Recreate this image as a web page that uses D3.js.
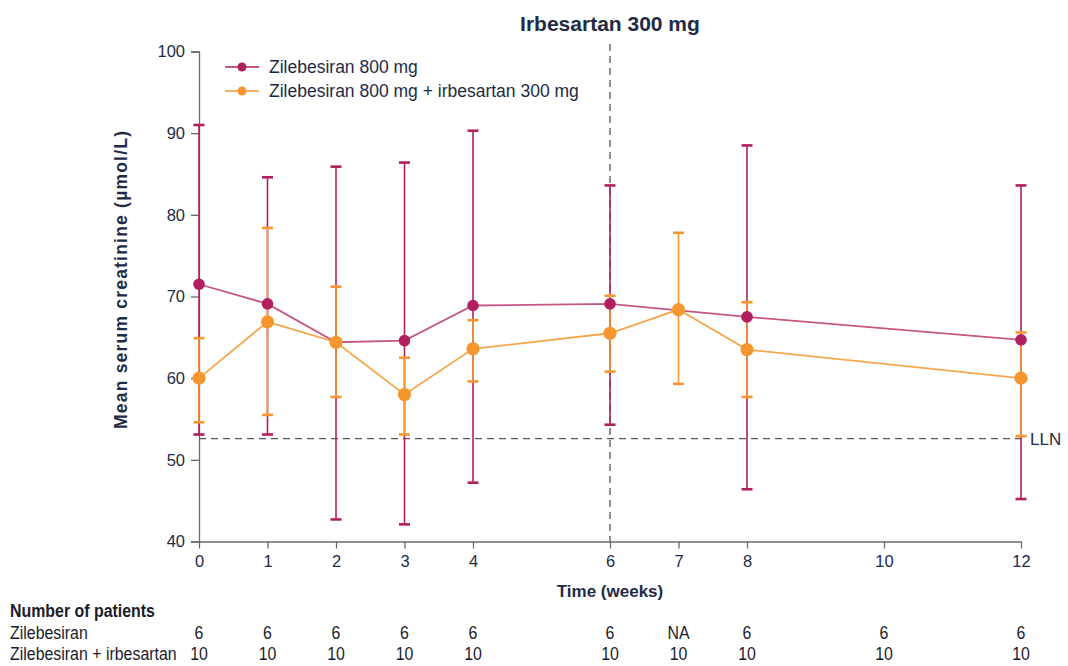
<!DOCTYPE html>
<html>
<head>
<meta charset="utf-8">
<script src="https://cdn.jsdelivr.net/npm/d3@7"></script>
<style>
  body { margin: 0; background: #fff; }
  text { font-family: "Liberation Sans", Arial, sans-serif; }
</style>
</head>
<body>
<svg id="chart" width="1068" height="666"></svg>
<script>
// data
var weeks = [0, 1, 2, 3, 4, 6, 7, 8, 12]
var zileMean  = [71.5, 69.1, 64.4, 64.6, 68.9, 69.1, null, 67.5, 64.7]
var zileUpper = [91.0, 84.6, 85.9, 86.4, 90.3, 83.6, null, 88.5, 83.6]
var zileLower = [53.1, 53.1, 42.7, 42.1, 47.2, 54.3, null, 46.4, 45.2]
var irbMean  = [60.0, 66.9, 64.4, 58.0, 63.6, 65.5, 68.4, 63.5, 60.0]
var irbUpper = [64.9, 78.4, 71.2, 62.5, 67.1, 70.1, 77.8, 69.3, 65.6]
var irbLower = [54.6, 55.5, 57.7, 53.1, 59.6, 60.8, 59.3, 57.7, 52.9]
var tickWeeks = [0, 1, 2, 3, 4, 6, 7, 8, 10, 12]
var yTicks = [40, 50, 60, 70, 80, 90, 100]
var zileN = ["6", "6", "6", "6", "6", "6", "NA", "6", "6", "6"]
var irbN = ["10", "10", "10", "10", "10", "10", "10", "10", "10", "10"]
var lln = 52.6
var doseWeek = 6
var seriesNames = ["Zilebesiran 800 mg", "Zilebesiran 800 mg + irbesartan 300 mg"]
var rowNames = ["Zilebesiran", "Zilebesiran + irbesartan"]

var magenta = "#b11f5e"
var orange = "#f5962e"
var axisGrey = "#6a6a6a"
var textCol = "#1e2b45"

var svg = d3.select("#chart")
var x = d3.scaleLinear().domain([0, 12]).range([199, 1021])
var y = d3.scaleLinear().domain([40, 100]).range([541.5, 51.5])

function build(mean, upper, lower) {
  return weeks.map(function (w, i) {
    return { w: w, m: mean[i], hi: upper[i], lo: lower[i] }
  }).filter(function (d) { return d.m != null })
}
var zile = build(zileMean, zileUpper, zileLower)
var irb = build(irbMean, irbUpper, irbLower)

// title
svg.append("text").attr("x", 610).attr("y", 31).attr("text-anchor", "middle")
  .style("font-size", "21px").style("font-weight", "bold").style("fill", textCol)
  .text("Irbesartan 300 mg")

// axes
var yAxis = svg.append("g").attr("transform", "translate(" + x(0) + ",0)")
  .call(d3.axisLeft(y).tickValues(yTicks).tickSize(8).tickPadding(6).tickSizeOuter(8))
var xAxis = svg.append("g").attr("transform", "translate(0," + y(40) + ")")
  .call(d3.axisBottom(x).tickValues(tickWeeks).tickSize(7).tickPadding(7).tickSizeOuter(0))
;[yAxis, xAxis].forEach(function (g) {
  g.select(".domain").attr("stroke", axisGrey).attr("stroke-width", 1.3)
  g.selectAll(".tick line").attr("stroke", axisGrey).attr("stroke-width", 1.3)
  g.selectAll(".tick text").style("font-size", "16.5px").style("fill", textCol)
    .style("font-family", "'Liberation Sans', Arial, sans-serif")
})

svg.append("text")
  .attr("transform", "translate(127,280) rotate(-90)")
  .attr("text-anchor", "middle")
  .attr("textLength", 298).attr("lengthAdjust", "spacing")
  .style("font-size", "17.5px").style("font-weight", "bold").style("fill", textCol)
  .text("Mean serum creatinine (µmol/L)")
svg.append("text").attr("x", x(6)).attr("y", 597).attr("text-anchor", "middle")
  .style("font-size", "17px").style("font-weight", "bold").style("fill", textCol)
  .text("Time (weeks)")

// reference lines
svg.append("line")
  .attr("x1", x(doseWeek)).attr("x2", x(doseWeek)).attr("y1", 44).attr("y2", y(40))
  .attr("stroke", "#555").attr("stroke-width", 1.3).attr("stroke-dasharray", "7,5")
svg.append("line")
  .attr("x1", x(0)).attr("x2", x(12) + 4).attr("y1", y(lln)).attr("y2", y(lln))
  .attr("stroke", "#555").attr("stroke-width", 1.3).attr("stroke-dasharray", "7,5")
svg.append("text").attr("x", x(12) + 9).attr("y", y(lln) + 6)
  .style("font-size", "17px").style("fill", textCol).text("LLN")

// error bars
function errorBars(data, col, cls) {
  var g = svg.append("g").attr("class", cls)
  g.selectAll("line.v").data(data).enter().append("line")
    .attr("x1", function (d) { return x(d.w) }).attr("x2", function (d) { return x(d.w) })
    .attr("y1", function (d) { return y(d.hi) }).attr("y2", function (d) { return y(d.lo) })
    .attr("stroke", col).attr("stroke-width", 1.6)
  ;["hi", "lo"].forEach(function (k) {
    g.selectAll("line.c" + k).data(data).enter().append("line")
      .attr("x1", function (d) { return x(d.w) - 5.5 }).attr("x2", function (d) { return x(d.w) + 5.5 })
      .attr("y1", function (d) { return y(d[k]) }).attr("y2", function (d) { return y(d[k]) })
      .attr("stroke", col).attr("stroke-width", 2.6)
  })
}
errorBars(zile, magenta, "zileErr")
errorBars(irb, orange, "irbErr")

var line = d3.line().x(function (d) { return x(d.w) }).y(function (d) { return y(d.m) })
svg.append("path").datum(zile).attr("d", line).attr("fill", "none")
  .attr("stroke", magenta).attr("stroke-opacity", 0.75).attr("stroke-width", 1.8)
svg.append("path").datum(irb).attr("d", line).attr("fill", "none")
  .attr("stroke", orange).attr("stroke-opacity", 0.85).attr("stroke-width", 1.8)

svg.append("g").selectAll("circle").data(zile).enter().append("circle")
  .attr("cx", function (d) { return x(d.w) }).attr("cy", function (d) { return y(d.m) })
  .attr("r", 5.8).attr("fill", magenta)
svg.append("g").selectAll("circle").data(irb).enter().append("circle")
  .attr("cx", function (d) { return x(d.w) }).attr("cy", function (d) { return y(d.m) })
  .attr("r", 6.6).attr("fill", orange)

// legend
var legend = svg.append("g")
seriesNames.forEach(function (name, i) {
  var col = i == 0 ? magenta : orange
  var ly = 67 + i * 24
  legend.append("line").attr("x1", 225).attr("x2", 259).attr("y1", ly).attr("y2", ly)
    .attr("stroke", col).attr("stroke-width", 1.6)
  legend.append("circle").attr("cx", 242).attr("cy", ly).attr("r", 4.5).attr("fill", col)
  legend.append("text").attr("x", 269).attr("y", ly + 6)
    .style("font-size", "17.5px").style("fill", textCol).text(name)
})

// number of patients table, narrowed to look like a condensed face
var tableCol = "#1b1b2b"
function narrowText(tx, ty, str, bold, anchor) {
  return svg.append("text")
    .attr("transform", "translate(" + tx + "," + ty + ") scale(0.86,1)")
    .attr("text-anchor", anchor || "start")
    .style("font-size", "18.5px").style("font-weight", bold ? "bold" : "normal")
    .style("fill", tableCol).text(str)
}
narrowText(10, 617, "Number of patients", true)
;[zileN, irbN].forEach(function (row, r) {
  var ry = 639 + r * 21
  narrowText(10, ry, rowNames[r], false)
  row.forEach(function (d, i) {
    narrowText(x(tickWeeks[i]), ry, d, false, "middle")
  })
})
</script>
</body>
</html>
